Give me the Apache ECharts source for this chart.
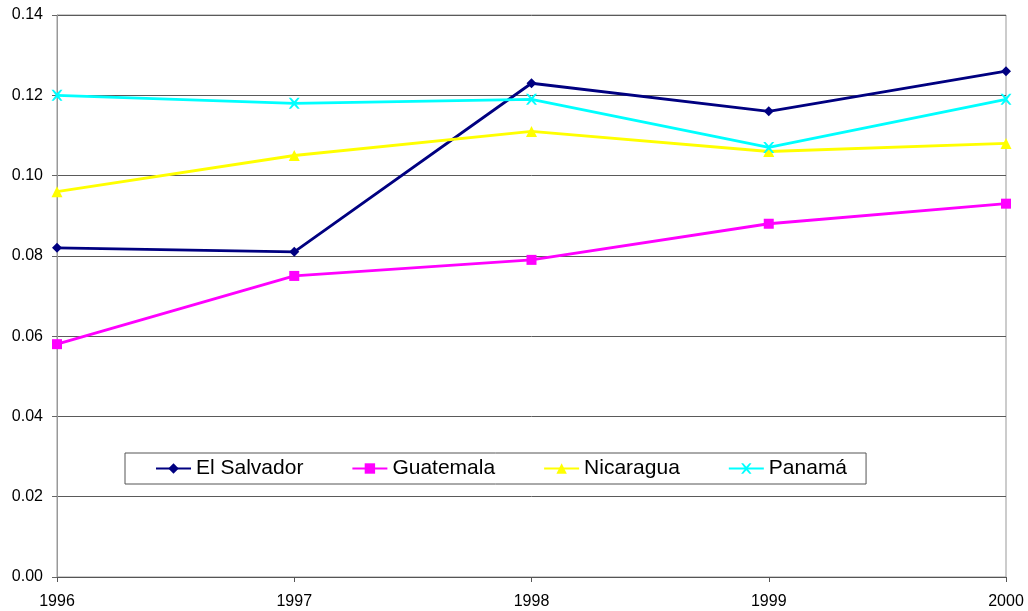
<!DOCTYPE html>
<html>
<head>
<meta charset="utf-8">
<script src="https://cdn.jsdelivr.net/npm/echarts@6/dist/echarts.min.js"></script>
<style>
  html, body { margin: 0; padding: 0; background: #fff; }
  #chart { width: 1028px; height: 611px; }
</style>
</head>
<body>
<div id="chart"></div>
<script>
// Years on the horizontal axis
const years = ['1996', '1997', '1998', '1999', '2000'];

// Values per country
const elSalvador = [0.082, 0.081, 0.123, 0.116, 0.126];
const guatemala  = [0.058, 0.075, 0.079, 0.088, 0.093];
const nicaragua  = [0.096, 0.105, 0.111, 0.106, 0.108];
const panama     = [0.120, 0.118, 0.119, 0.107, 0.119];

// Country names shown in the legend
const seriesNames = ['El Salvador', 'Guatemala', 'Nicaragua', 'Panamá'];

// Cross-shaped marker
const crossPath = 'path://M0,0 L2,0 L5,3.2 L8,0 L10,0 L6.2,5 L10,10 L8,10 L5,6.8 L2,10 L0,10 L3.8,5 Z';

const font = 'Arial, "Liberation Sans", sans-serif';

function lineSeries(name, data, color, symbol, size) {
  return {
    name: name,
    type: 'line',
    data: data,
    symbol: symbol,
    symbolSize: size,
    showSymbol: true,
    lineStyle: { color: color, width: 2.8 },
    itemStyle: { color: color },
    emphasis: { disabled: true },
    animation: false
  };
}

const chart = echarts.init(document.getElementById('chart'), null, { renderer: 'canvas' });
chart.setOption({
  backgroundColor: '#ffffff',
  animation: false,
  grid: {
    left: 57, right: 22, top: 15, bottom: 34,
    show: true, borderColor: '#999', borderWidth: 1
  },
  legend: {
    data: seriesNames,
    left: 125,
    top: 453,
    orient: 'horizontal',
    padding: [5, 19, 5, 30],
    itemGap: 48,
    itemWidth: 35,
    itemHeight: 13,
    borderColor: '#555',
    borderWidth: 1,
    textStyle: { fontFamily: font, fontSize: 21, color: '#000' }
  },
  xAxis: {
    type: 'category',
    data: years,
    boundaryGap: false,
    axisLine: { show: true, lineStyle: { color: '#555', width: 1 } },
    axisTick: { show: true, length: 5, lineStyle: { color: '#555' } },
    axisLabel: { fontFamily: font, fontSize: 16, color: '#000', margin: 17 },
    splitLine: { show: false }
  },
  yAxis: {
    type: 'value',
    min: 0,
    max: 0.14,
    interval: 0.02,
    axisLine: { show: true, lineStyle: { color: '#999', width: 1 } },
    axisTick: { show: true, length: 5, lineStyle: { color: '#666' } },
    axisLabel: {
      fontFamily: font, fontSize: 16, color: '#000', margin: 14,
      formatter: v => v.toFixed(2)
    },
    splitLine: { show: true, lineStyle: { color: '#5a5a5a', width: 1 } }
  },
  series: [
    lineSeries(seriesNames[0], elSalvador, '#000080', 'diamond', 10),
    lineSeries(seriesNames[1], guatemala, '#ff00ff', 'rect', 10),
    lineSeries(seriesNames[2], nicaragua, '#ffff00', 'triangle', 11),
    lineSeries(seriesNames[3], panama, '#00ffff', crossPath, 11)
  ]
});
</script>
</body>
</html>
